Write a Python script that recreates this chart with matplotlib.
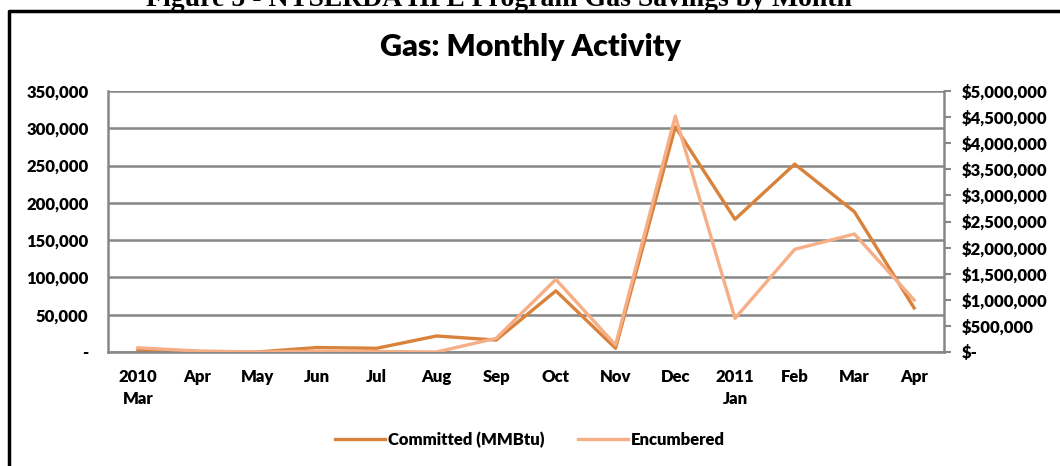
import numpy as np
import matplotlib.pyplot as plt
from matplotlib.ticker import FuncFormatter

# Data
months = ['2010\nMar', 'Apr', 'May', 'Jun', 'Jul', 'Aug', 'Sep', 'Oct', 'Nov', 'Dec',
          '2011\nJan', 'Feb', 'Mar', 'Apr']
committed = [2000, 500, 0, 6000, 5000, 21500, 16000, 82000, 5000, 302000,
             178000, 252000, 188000, 59000]
encumbered = [80000, 20000, 0, 15000, 10000, 0, 262000, 1390000, 134000, 4520000,
              645000, 1967000, 2260000, 996000]

c_dark = '#D9823B'
c_light = '#F6AE86'
grid_c = '#878787'
font = ['Lato', 'DejaVu Sans']

fig = plt.figure(figsize=(10.6, 4.66), dpi=100)
ax = fig.add_axes([108 / 1060, 1 - 352 / 466, (944 - 108) / 1060, (352 - 91) / 466])
ax2 = ax.twinx()

x = np.arange(len(months))
l1, = ax.plot(x, committed, color=c_dark, lw=2.4, solid_joinstyle='round')
l2, = ax2.plot(x, encumbered, color=c_light, lw=2.4, solid_joinstyle='round')

ax.set_xlim(-0.5, len(months) - 0.5)
ax.set_ylim(0, 350000)
ax2.set_ylim(0, 5000000)
ax.set_yticks(np.arange(0, 350001, 50000))
ax2.set_yticks(np.arange(0, 5000001, 500000))
ax.yaxis.grid(True, color=grid_c, lw=1.8)
ax.set_axisbelow(True)

ax.yaxis.set_major_formatter(FuncFormatter(lambda v, p: '-' if v == 0 else f'{v:,.0f}'))
ax2.yaxis.set_major_formatter(FuncFormatter(lambda v, p: '$-' if v == 0 else f'${v:,.0f}'))

ax.set_xticks(x)
ax.set_xticklabels(months, linespacing=1.5)

for a in (ax, ax2):
    for s in a.spines.values():
        s.set_visible(False)
for a, side in ((ax, 'left'), (ax, 'bottom'), (ax2, 'right')):
    a.spines[side].set_visible(True)
    a.spines[side].set_color(grid_c)
    a.spines[side].set_linewidth(1.8)

ax.tick_params(axis='y', length=0, pad=14)
ax.tick_params(axis='x', length=0, pad=12)
ax2.tick_params(axis='y', length=5, width=1.5, color=grid_c, pad=8)
for lab in ax.get_yticklabels() + ax.get_xticklabels() + ax2.get_yticklabels():
    lab.set_fontfamily(font)
    lab.set_fontweight('heavy')
    lab.set_fontsize(12)

fig.text(0.5, 1 - 47 / 466, 'Gas: Monthly Activity', ha='center', va='center',
         fontsize=22, fontweight='heavy', family=font)

fig.legend([l1, l2], ['Committed (MMBtu)', 'Encumbered'], loc='center',
           bbox_to_anchor=(0.5, 1 - 440 / 466), ncol=2, frameon=False,
           prop={'family': font, 'weight': 'heavy', 'size': 12},
           handlelength=3.0, handletextpad=0.2, columnspacing=2.0)

# clipped caption above the box and the box border
fig.text(0.471, 1 - 6 / 466, 'Figure 5 - NYSERDA HPE Program Gas Savings by Month',
         ha='center', va='baseline', fontsize=20, fontweight='bold',
         family='Liberation Serif')
fig.add_artist(plt.Line2D([9 / 1060, 9 / 1060, 1.0], [0, 1 - 10.5 / 466, 1 - 10.5 / 466],
                          color='black', lw=2.5, transform=fig.transFigure))

fig.savefig('out.png', dpi=100)
